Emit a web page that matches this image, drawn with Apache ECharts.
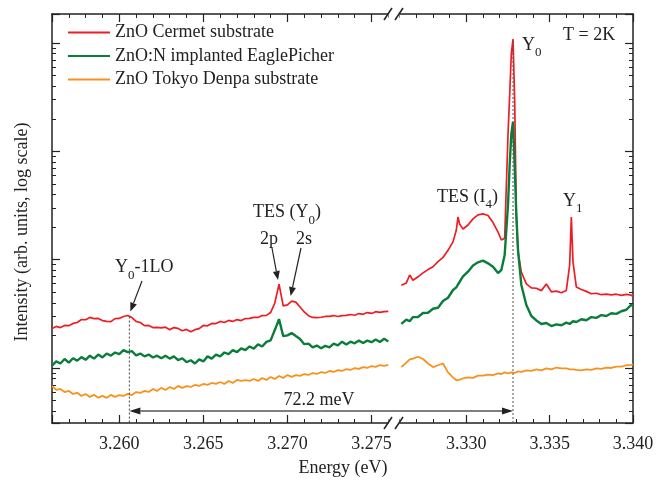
<!DOCTYPE html>
<html>
<head>
<meta charset="utf-8">
<script src="https://cdn.jsdelivr.net/npm/echarts@6/dist/echarts.min.js"></script>
<style>
  html, body { margin: 0; padding: 0; background: #fff; }
  #chart { width: 672px; height: 483px; }
</style>
</head>
<body>
<div id="chart"></div>
<script>
// Photoluminescence spectra at T = 2 K, broken energy axis (low-energy window | Y0 window)

const seriesNames = ['ZnO Cermet substrate', 'ZnO:N implanted EaglePicher', 'ZnO Tokyo Denpa substrate'];

// Low-energy window (eV)
const energyLeft = [
  3.25600,3.25625,3.25650,3.25675,3.25700,3.25725,3.25750,3.25775,3.25800,3.25825,
  3.25850,3.25875,3.25900,3.25925,3.25950,3.25975,3.26000,3.26025,3.26050,3.26075,
  3.26100,3.26125,3.26150,3.26175,3.26200,3.26225,3.26250,3.26275,3.26300,3.26325,
  3.26350,3.26375,3.26400,3.26425,3.26450,3.26475,3.26500,3.26525,3.26550,3.26575,
  3.26600,3.26625,3.26650,3.26675,3.26700,3.26725,3.26750,3.26775,3.26800,3.26825,
  3.26850,3.26875,3.26900,3.26925,3.26950,3.26975,3.27000,3.27025,3.27050,3.27075,
  3.27100,3.27125,3.27150,3.27175,3.27200,3.27225,3.27250,3.27275,3.27300,3.27325,
  3.27350,3.27375,3.27400,3.27425,3.27450,3.27475,3.27500,3.27525,3.27550,3.27575,
  3.27600
];
const cermetLeft = [
  2.31,2.42,2.36,2.47,2.46,2.58,2.63,2.80,2.79,2.93,
  2.86,2.87,2.74,2.69,2.68,2.86,2.87,2.99,3.05,2.92,
  2.69,2.63,2.46,2.47,2.36,2.37,2.35,2.38,2.26,2.36,
  2.32,2.21,2.27,2.16,2.26,2.31,2.47,2.45,2.58,2.57,
  2.69,2.63,2.75,2.69,2.80,2.74,2.86,2.87,2.93,2.93,
  3.05,3.06,3.25,3.98,5.95,3.74,3.82,4.15,4.06,3.66,
  3.29,3.04,2.93,2.92,2.94,2.99,3.00,3.05,2.99,3.04,
  3.06,3.12,3.07,3.18,3.13,3.25,3.19,3.31,3.26,3.32,
  3.33
];
const implantedLeft = [
  1.05,1.15,1.10,1.21,1.12,1.23,1.17,1.26,1.19,1.30,
  1.22,1.33,1.25,1.36,1.30,1.39,1.34,1.46,1.40,1.43,
  1.31,1.36,1.28,1.33,1.25,1.30,1.23,1.30,1.22,1.28,
  1.18,1.23,1.13,1.18,1.10,1.20,1.15,1.28,1.22,1.33,
  1.28,1.39,1.34,1.46,1.40,1.52,1.46,1.58,1.51,1.65,
  1.58,1.74,1.80,2.24,2.83,1.97,2.00,2.10,1.97,1.85,
  1.66,1.68,1.55,1.61,1.52,1.60,1.55,1.68,1.62,1.75,
  1.65,1.75,1.69,1.79,1.70,1.79,1.73,1.83,1.74,1.86,
  1.76
];
const denpaLeft = [
  0.682,0.628,0.640,0.600,0.614,0.576,0.590,0.552,0.575,0.541,
  0.565,0.531,0.552,0.530,0.564,0.541,0.563,0.552,0.577,0.563,
  0.600,0.588,0.614,0.601,0.641,0.613,0.655,0.627,0.668,0.641,
  0.683,0.655,0.681,0.668,0.697,0.683,0.712,0.698,0.727,0.713,
  0.742,0.713,0.758,0.728,0.775,0.760,0.774,0.760,0.792,0.760,
  0.808,0.776,0.826,0.793,0.843,0.810,0.861,0.827,0.860,0.845,
  0.880,0.862,0.898,0.881,0.918,0.900,0.938,0.919,0.957,0.939,
  0.978,0.959,0.999,0.980,1.020,1.001,1.043,1.023,1.065,1.045,
  1.070
];

// Y0 window (eV)
const energyRight = [
  3.3261,3.3264,3.3266,3.3268,3.3271,3.3274,3.3277,3.3280,3.3283,3.3286,
  3.3289,3.3292,3.3294,3.3295,3.3296,3.3298,3.3301,3.3304,3.3307,3.3310,
  3.3313,3.3316,3.3319,3.3321,3.3323,3.3325,3.3326,3.3327,3.3328,3.3329,
  3.3330,3.3331,3.3333,3.3336,3.3339,3.3342,3.3345,3.3348,3.3351,3.3354,
  3.3357,3.3360,3.3362,3.3363,3.3364,3.3366,3.3369,3.3372,3.3375,3.3378,
  3.3381,3.3384,3.3387,3.3390,3.3393,3.3396,3.3399,3.3400
];
const cermetRight = [
  5.80,6.10,7.22,6.45,6.95,7.55,8.10,8.60,9.60,10.5,
  12.2,14.6,18.8,24.8,21.3,19.2,20.9,23.8,25.9,26.5,
  25.6,22.0,18.0,15.2,15.8,142,332,800,1091,298,
  25.9,11.8,7.69,5.97,5.50,5.45,5.18,5.97,5.05,5.12,
  4.95,5.20,8.93,24.8,9.51,5.60,5.30,5.10,4.85,4.90,
  4.75,4.80,4.74,4.80,4.68,4.78,4.70,4.55
];
const implantedRight = [
  2.55,2.80,2.70,2.95,2.96,3.22,3.24,3.52,3.60,4.15,
  4.45,5.25,5.55,5.90,6.15,7.00,7.75,8.85,9.45,9.80,
  9.25,8.60,7.53,8.03,11.05,32.0,74.9,145,187,74.9,
  25.9,12.3,5.84,3.82,3.02,2.75,2.55,2.60,2.44,2.53,
  2.48,2.62,2.55,2.63,2.70,2.66,2.82,2.76,2.95,2.90,
  3.08,3.02,3.20,3.16,3.34,3.45,3.85,3.74
];
const denpaRight = [
  1.02,1.12,1.20,1.22,1.27,1.21,1.10,1.02,1.06,1.10,
  0.91,0.82,0.77,0.78,0.78,0.80,0.82,0.81,0.85,0.85,
  0.87,0.86,0.89,0.88,0.91,0.89,0.90,0.91,0.92,0.90,
  0.92,0.93,0.92,0.95,0.94,0.97,0.95,0.99,0.97,1.01,
  0.99,0.99,0.97,0.98,0.97,0.96,0.95,0.97,0.96,0.99,
  0.98,1.01,1.00,1.03,1.03,1.06,1.07,1.08
];

// Marked energies (eV)
const y0Energy = 3.3328;
const phononReplicaEnergy = 3.2606;
const separationLabel = '72.2 meV';

// Axis windows
const leftWindow = [3.256, 3.2761];
const rightWindow = [3.3259, 3.340];
const intensityRange = [0.3105, 1856];

const FONT = '"Liberation Serif", "Times New Roman", serif';
const INK = '#222';
const COLORS = ['#ee1d24', '#0a7d3b', '#f7921e'];
const WIDTHS = [1.7, 2.4, 1.8];

const chart = echarts.init(document.getElementById('chart'), null, { renderer: 'canvas' });

function zip(xs, ys) { return xs.map((x, i) => [x, ys[i]]); }

function energyAxis(gridIndex, position, win, showLabels, splitNumber, showMax) {
  return {
    type: 'value', gridIndex, position, min: win[0], max: win[1], splitNumber,
    axisLine: { show: true, onZero: false, lineStyle: { color: INK, width: 1.5 } },
    axisTick: { show: true, inside: true, length: 8, lineStyle: { color: INK, width: 1.2 } },
    minorTick: { show: true, splitNumber: 5, length: 4, lineStyle: { color: INK, width: 1 } },
    axisLabel: {
      show: showLabels, margin: 12, fontFamily: FONT, fontSize: 18, color: INK,
      showMinLabel: false, showMaxLabel: showMax,
      formatter: v => v.toFixed(3)
    },
    splitLine: { show: false }, minorSplitLine: { show: false }
  };
}

function intensityAxis(gridIndex, position) {
  return {
    type: 'log', logBase: 10, gridIndex, position,
    min: intensityRange[0], max: intensityRange[1],
    axisLine: { show: true, onZero: false, lineStyle: { color: INK, width: 1.5 } },
    axisTick: { show: true, inside: true, length: 8, lineStyle: { color: INK, width: 1.2 } },
    minorTick: { show: true, splitNumber: 9, length: 4, lineStyle: { color: INK, width: 1 } },
    axisLabel: { show: false },
    splitLine: { show: false }, minorSplitLine: { show: false }
  };
}

const spectra = [
  [cermetLeft, cermetRight],
  [implantedLeft, implantedRight],
  [denpaLeft, denpaRight]
];

const series = [];
spectra.forEach((pair, i) => {
  const common = {
    type: 'line', name: seriesNames[i], symbol: 'none', showSymbol: false,
    lineStyle: { color: COLORS[i], width: WIDTHS[i] },
    itemStyle: { color: COLORS[i] },
    z: 2 + i, silent: true, animation: false
  };
  series.push(Object.assign({}, common, { xAxisIndex: 0, yAxisIndex: 0, data: zip(energyLeft, pair[0]) }));
  series.push(Object.assign({}, common, { xAxisIndex: 2, yAxisIndex: 1, data: zip(energyRight, pair[1]) }));
});

chart.setOption({
  animation: false,
  backgroundColor: '#fff',
  textStyle: { fontFamily: FONT },
  grid: [
    { left: 52, right: 282, top: 14, bottom: 60, containLabel: false },
    { left: 398, right: 39, top: 14, bottom: 60, containLabel: false }
  ],
  xAxis: [
    energyAxis(0, 'bottom', leftWindow, true, 4, false),
    energyAxis(0, 'top', leftWindow, false, 4, false),
    energyAxis(1, 'bottom', rightWindow, true, 3, true),
    energyAxis(1, 'top', rightWindow, false, 3, true)
  ],
  yAxis: [
    intensityAxis(0, 'left'),
    intensityAxis(1, 'right')
  ],
  legend: {
    orient: 'vertical', left: 63, top: 18, padding: 5,
    icon: 'rect', itemWidth: 42, itemHeight: 2, itemGap: 4.5,
    textStyle: { fontFamily: FONT, fontSize: 18, lineHeight: 19, color: INK },
    data: seriesNames
  },
  series
});

// ---- overlay: guide lines, arrows, labels, axis break ----
const toPx = (win, e, v) => chart.convertToPixel(
  win === 0 ? { xAxisIndex: 0, yAxisIndex: 0 } : { xAxisIndex: 2, yAxisIndex: 1 }, [e, v]);

function nearestValue(xs, ys, e) {
  let best = 0;
  xs.forEach((x, i) => { if (Math.abs(x - e) < Math.abs(xs[best] - e)) best = i; });
  return ys[best];
}

const bottomY = toPx(0, leftWindow[0], intensityRange[0])[1];
const loPt = toPx(0, phononReplicaEnergy, nearestValue(energyLeft, cermetLeft, phononReplicaEnergy));
const y0Pt = toPx(1, y0Energy, Math.max.apply(null, cermetRight));
const arrowY = toPx(0, leftWindow[0], 0.40)[1];
const p2Pt = toPx(0, 3.2695, nearestValue(energyLeft, cermetLeft, 3.2695));
const s2Pt = toPx(0, 3.27025, nearestValue(energyLeft, cermetLeft, 3.27025));

function text(str, x, y, opts) {
  opts = opts || {};
  return {
    type: 'text', x, y, z: 100, rotation: opts.rotation || 0, silent: true,
    style: {
      text: str, fill: INK,
      font: (opts.size || 18) + 'px ' + FONT,
      textAlign: opts.align || 'left', textVerticalAlign: 'middle'
    }
  };
}

function arrow(x1, y1, x2, y2, color, headLen, headHalf, width) {
  const dx = x2 - x1, dy = y2 - y1;
  const len = Math.sqrt(dx * dx + dy * dy);
  const ux = dx / len, uy = dy / len;
  const bx = x2 - ux * headLen, by = y2 - uy * headLen;
  return [
    { type: 'line', z: 100, silent: true, shape: { x1, y1, x2: bx, y2: by },
      style: { stroke: color, lineWidth: width } },
    { type: 'polygon', z: 100, silent: true,
      shape: { points: [[x2, y2], [bx - uy * headHalf, by + ux * headHalf], [bx + uy * headHalf, by - ux * headHalf]] },
      style: { fill: INK } }
  ];
}

function breakMark(yc) {
  return [
    { type: 'rect', z: 90, silent: true, shape: { x: 388.5, y: yc - 9, width: 11, height: 18 }, style: { fill: '#fff' } },
    { type: 'line', z: 95, silent: true, shape: { x1: 384, y1: yc + 6, x2: 392, y2: yc - 6 }, style: { stroke: INK, lineWidth: 1.5 } },
    { type: 'line', z: 95, silent: true, shape: { x1: 395, y1: yc + 6, x2: 403, y2: yc - 6 }, style: { stroke: INK, lineWidth: 1.5 } }
  ];
}

const graphics = [].concat(
  // dotted guides
  [{ type: 'line', z: 99, silent: true,
     shape: { x1: loPt[0], y1: loPt[1] + 1, x2: loPt[0], y2: bottomY },
     style: { stroke: '#444', lineWidth: 1, lineDash: [2, 2] } },
   { type: 'line', z: 99, silent: true,
     shape: { x1: y0Pt[0], y1: y0Pt[1] + 2, x2: y0Pt[0], y2: bottomY },
     style: { stroke: '#555', lineWidth: 1, lineDash: [2, 2] } }],
  // double arrow for the LO phonon separation
  arrow((loPt[0] + y0Pt[0]) / 2, arrowY, loPt[0], arrowY, '#555', 11, 3.5, 1.5),
  arrow((loPt[0] + y0Pt[0]) / 2, arrowY, y0Pt[0], arrowY, '#555', 11, 3.5, 1.5),
  [text(separationLabel, 319, arrowY - 11, { align: 'center' })],
  // peak labels
  [text('T = 2K', 563, 35)],
  [text('Y', 522, 45), text('0', 535, 53, { size: 13 })],
  [text('Y', 563, 201), text('1', 576, 209, { size: 13 })],
  [text('TES (I', 437, 197), text('4', 485.5, 205, { size: 13 }), text(')', 492, 197)],
  [text('TES (Y', 253, 212.5), text('0', 308.5, 221, { size: 13 }), text(')', 315, 212.5)],
  [text('2p', 260, 239), text('2s', 296, 239)],
  [text('Y', 115, 267.5), text('0', 128, 276, { size: 13 }), text('-1LO', 134.5, 267.5)],
  arrow(272, 248, p2Pt[0] - 1, p2Pt[1] - 4, INK, 9, 3.5, 1.2),
  arrow(301, 248, s2Pt[0] - 1, s2Pt[1] - 5, INK, 9, 3.5, 1.2),
  arrow(142, 281, loPt[0] + 1, loPt[1] - 4, INK, 9, 3.5, 1.2),
  // axis titles
  [text('Energy (eV)', 343, 468, { align: 'center' })],
  [text('Intensity (arb. units, log scale)', 22, 232, { align: 'center', rotation: Math.PI / 2 })],
  // axis break marks
  breakMark(14), breakMark(423)
);

chart.setOption({ graphic: graphics });
</script>
</body>
</html>
